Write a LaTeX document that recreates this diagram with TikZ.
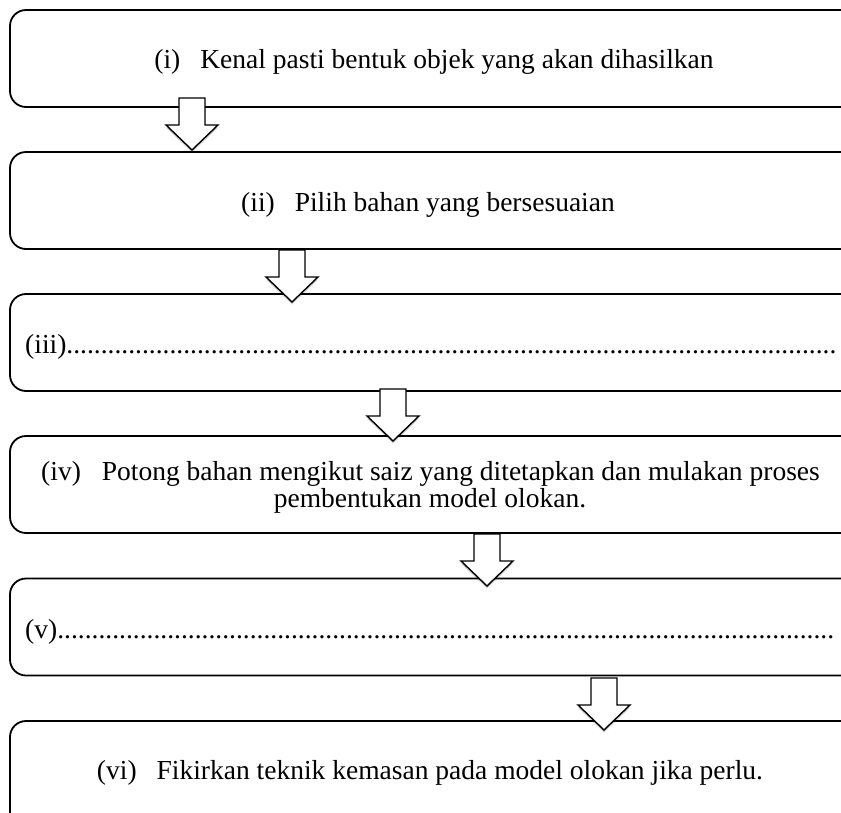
\documentclass[tikz,border=0pt]{standalone}
\usepackage{fontspec}
\setmainfont{Liberation Serif}
\usetikzlibrary{shadows}
\begin{document}
\begin{tikzpicture}[x=1pt,y=-1pt,
  box/.style={draw=black,line width=1.8pt,rounded corners=16pt,fill=white,
    minimum width=848pt,minimum height=97pt,inner sep=0pt},
  txt/.style={font=\fontsize{27.5}{28}\selectfont,inner sep=0pt,anchor=base},
  ltxt/.style={txt,anchor=base west},
  arrowstyle/.style={fill=white,draw=black,line width=1.4pt,line join=miter,
    drop shadow={shadow xshift=0pt,shadow yshift=-2.5pt,opacity=0.18,fill=black}},
  blockarrow/.pic={\path[arrowstyle] (-13,-52) -- (13,-52) -- (13,-25) -- (26,-25)
     -- (0,0) -- (-26,-25) -- (-13,-25) -- cycle;}
]
\useasboundingbox (0,0) rectangle (841,812);
\clip (0,0) rectangle (841,812);
\fill[white] (0,0) rectangle (841,812);
\def\mydots#1{\foreach \i in {1,...,#1}{.}}
% boxes
\node[box] (b1) at (434,58.5) {};
\node[box] (b2) at (434,200.5) {};
\node[box] (b3) at (434,342.5) {};
\node[box] (b4) at (434,484.5) {};
\node[box] (b5) at (434,627) {};
\node[box,minimum height=112pt] (b6) at (434,777) {};
% block arrows
\pic at (192,150) {blockarrow};
\pic at (292,302) {blockarrow};
\pic at (393,441) {blockarrow};
\pic at (487,586) {blockarrow};
\pic at (604,730) {blockarrow};
% texts
\node[txt] (t1) at (434,68.5) {(i)\hspace{20pt}Kenal pasti bentuk objek yang akan dihasilkan};
\node[txt] (t2) at (428,211) {(ii)\hspace{20pt}Pilih bahan yang bersesuaian};
\node[ltxt] (t3) at (25,353) {(iii)\mydots{112}};
\node[txt] (t4a) at (430.5,480) {(iv)\hspace{21pt}Potong bahan mengikut saiz yang ditetapkan dan mulakan proses};
\node[txt] (t4b) at (430,507) {pembentukan model olokan.};
\node[ltxt] (t5) at (25,638) {(v)\mydots{113}};
\node[txt] (t6) at (430,779.5) {(vi)\hspace{20pt}Fikirkan teknik kemasan pada model olokan jika perlu.};
\end{tikzpicture}
\end{document}
